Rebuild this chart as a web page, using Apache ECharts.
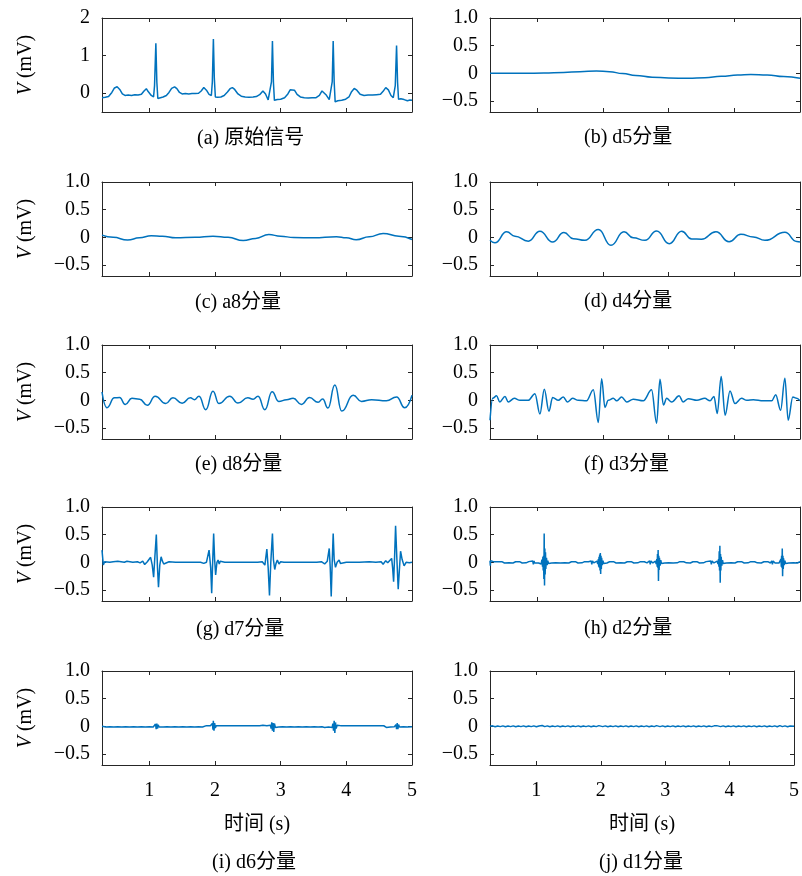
<!DOCTYPE html>
<html><head><meta charset="utf-8">
<script src="https://cdn.jsdelivr.net/npm/echarts@6/dist/echarts.min.js"></script>
<style>html,body{margin:0;padding:0;background:#fff}#c{width:802px;height:876px}</style>
</head><body><div id="c"></div>
<script>
// ---- axis / tick data ----
const X_MIN = 0.28, X_MAX = 5;
const xTicks = [1, 2, 3, 4, 5];
const yTicksRaw = [0, 1, 2];
const yTickLabelsRaw = ['0', '1', '2'];
const yTicksComp = [-0.5, 0, 0.5, 1.0];
const yTickLabelsComp = ['\u22120.5', '0', '0.5', '1.0'];
const captions = ['(a) 原始信号', '(b) d5分量', '(c) a8分量', '(d) d4分量', '(e) d8分量',
  '(f) d3分量', '(g) d7分量', '(h) d2分量', '(i) d6分量', '(j) d1分量'];
const xName = '时间 (s)';

// ---- series data: [time (s), voltage (mV)] ----
const sigRaw = [[0.28,-0.12],[0.33,-0.11],[0.38,-0.09],[0.43,0.02],[0.47,0.14],[0.51,0.17],[0.55,0.1],[0.59,-0.02],[0.63,-0.06],[0.68,-0.05],[0.73,-0.06],[0.78,-0.04],[0.83,-0.05],[0.88,-0.03],[0.92,0.06],[0.955,0.12],[0.98,0.05],[1.03,-0.06],[1.065,-0.1],[1.08,0.2],[1.10,1.33],[1.115,0.3],[1.13,-0.14],[1.16,-0.12],[1.21,-0.1],[1.26,-0.06],[1.30,0.02],[1.34,0.13],[1.385,0.17],[1.42,0.12],[1.46,0.02],[1.50,-0.02],[1.55,-0.01],[1.60,-0.02],[1.65,-0.01],[1.70,-0.01],[1.75,0.0],[1.79,0.06],[1.83,0.15],[1.87,0.08],[1.91,-0.03],[1.945,-0.06],[1.96,0.3],[1.976,1.44],[1.99,0.4],[2.006,-0.1],[2.04,-0.11],[2.09,-0.1],[2.14,-0.06],[2.19,0.03],[2.23,0.12],[2.265,0.15],[2.30,0.1],[2.35,-0.02],[2.40,-0.08],[2.46,-0.1],[2.52,-0.11],[2.58,-0.1],[2.63,-0.09],[2.68,-0.04],[2.73,0.06],[2.77,-0.02],[2.81,-0.18],[2.84,-0.15],[2.86,0.3],[2.875,1.39],[2.89,0.3],[2.905,-0.19],[2.95,-0.17],[3.0,-0.16],[3.06,-0.12],[3.11,-0.02],[3.145,0.09],[3.175,0.125],[3.21,0.08],[3.25,-0.03],[3.30,-0.1],[3.36,-0.12],[3.42,-0.13],[3.48,-0.12],[3.54,-0.12],[3.59,-0.06],[3.63,0.06],[3.65,0.08],[3.69,-0.04],[3.74,-0.17],[3.77,-0.16],[3.785,0.3],[3.80,1.39],[3.815,0.3],[3.83,-0.23],[3.87,-0.2],[3.93,-0.19],[3.99,-0.16],[4.04,-0.1],[4.08,0.04],[4.12,0.125],[4.16,0.08],[4.21,-0.03],[4.27,-0.06],[4.33,-0.05],[4.40,-0.05],[4.46,-0.04],[4.52,-0.03],[4.56,0.05],[4.60,0.15],[4.64,0.09],[4.68,-0.06],[4.715,-0.12],[4.745,0.2],[4.765,1.27],[4.78,0.3],[4.795,-0.16],[4.83,-0.15],[4.88,-0.17],[4.93,-0.2],[4.97,-0.18],[5.0,-0.19]];

const sigD5 = [[0.28,0.0],[0.5,0.0],[0.8,0.0],[1.1,0.005],[1.4,0.015],[1.65,0.03],[1.9,0.04],[2.1,0.03],[2.3,-0.005],[2.5,-0.04],[2.75,-0.07],[3.0,-0.085],[3.3,-0.09],[3.55,-0.08],[3.8,-0.055],[4.05,-0.03],[4.25,-0.02],[4.5,-0.03],[4.75,-0.06],[5.0,-0.09]];

const sigA8 = [[0.28,0.04],[0.45,0.0],[0.67,-0.05],[0.85,-0.01],[1.03,0.03],[1.2,0.02],[1.4,-0.01],[1.7,0.0],[1.97,0.02],[2.2,0.0],[2.43,-0.06],[2.62,-0.02],[2.82,0.05],[3.0,0.02],[3.2,-0.005],[3.5,-0.01],[3.85,0.01],[4.0,-0.01],[4.15,-0.045],[4.35,0.01],[4.56,0.07],[4.8,0.02],[5.0,-0.04]];

const sigD4 = [[0.28,-0.055],[0.355,-0.10],[0.533,0.10],[0.66,0.02],[0.863,-0.07],[1.04,0.11],[1.233,-0.085],[1.406,0.085],[1.548,-0.025],[1.726,-0.055],[1.929,0.14],[2.122,-0.145],[2.32,0.10],[2.46,-0.01],[2.64,-0.055],[2.817,0.115],[3.01,-0.115],[3.198,0.11],[3.35,-0.03],[3.50,-0.035],[3.72,0.10],[3.92,-0.08],[4.10,0.055],[4.29,0.005],[4.467,-0.055],[4.77,0.09],[4.95,-0.075],[5.0,-0.085]];

const sigD8 = [[0.28,0.15],[0.355,-0.135],[0.47,0.045],[0.548,0.05],[0.634,-0.075],[0.736,0.035],[0.853,0.02],[0.97,-0.09],[1.09,0.075],[1.25,-0.06],[1.36,0.045],[1.50,-0.055],[1.625,0.045],[1.69,0.01],[1.757,0.075],[1.86,-0.17],[1.97,0.165],[2.06,-0.06],[2.225,0.075],[2.35,-0.05],[2.50,0.045],[2.58,0.02],[2.656,0.075],[2.76,-0.17],[2.87,0.155],[2.97,-0.02],[3.09,0.01],[3.19,0.035],[3.317,-0.075],[3.44,0.05],[3.57,-0.035],[3.64,0.025],[3.72,-0.14],[3.825,0.275],[3.93,-0.195],[4.105,0.09],[4.23,-0.02],[4.385,0.01],[4.61,-0.01],[4.765,0.06],[4.89,-0.135],[5.0,0.09]];

const sigD3 = [[0.28,-0.36],[0.32,0.035],[0.38,0.08],[0.43,-0.03],[0.508,0.07],[0.558,-0.03],[0.65,0.035],[0.736,0.0],[0.863,0.0],[0.964,0.12],[1.04,-0.25],[1.107,0.2],[1.178,-0.2],[1.233,0.05],[1.32,0.0],[1.396,0.06],[1.457,-0.03],[1.538,0.035],[1.624,0.0],[1.75,-0.01],[1.853,0.19],[1.929,-0.40],[1.98,0.39],[2.03,-0.13],[2.08,0.0],[2.157,0.035],[2.208,-0.01],[2.284,0.06],[2.36,-0.03],[2.46,0.02],[2.614,-0.01],[2.74,0.19],[2.817,-0.415],[2.868,0.38],[2.92,-0.085],[2.97,0.035],[3.046,-0.03],[3.16,0.08],[3.22,-0.03],[3.30,0.03],[3.43,0.0],[3.55,0.035],[3.63,-0.01],[3.69,0.07],[3.74,-0.24],[3.80,0.43],[3.86,-0.27],[3.934,0.17],[4.01,-0.06],[4.11,0.035],[4.19,0.0],[4.29,0.01],[4.44,-0.01],[4.57,-0.01],[4.63,0.1],[4.705,-0.18],[4.77,0.40],[4.82,-0.36],[4.89,0.06],[4.95,0.035],[5.0,-0.01]];

const sigD7 = [[0.28,0.22],[0.30,-0.05],[0.32,0.01],[0.35,-0.01],[0.40,0.0],[0.45,0.01],[0.48,-0.02],[0.52,0.02],[0.55,0.0],[0.62,0.0],[0.66,0.02],[0.69,-0.01],[0.75,0.0],[0.82,0.01],[0.86,-0.01],[0.90,0.02],[0.93,-0.04],[0.97,0.01],[1.02,0.09],[1.045,-0.05],[1.066,-0.27],[1.085,0.1],[1.107,0.50],[1.125,-0.1],[1.14,-0.45],[1.16,-0.05],[1.18,0.10],[1.20,0.02],[1.22,-0.03],[1.25,0.0],[1.30,0.01],[1.40,0.0],[1.5,0.0],[1.6,0.0],[1.7,0.0],[1.78,0.0],[1.83,-0.02],[1.87,0.0],[1.91,0.22],[1.935,-0.1],[1.95,-0.56],[1.965,0.0],[1.98,0.52],[1.995,0.05],[2.01,-0.23],[2.03,0.0],[2.047,0.04],[2.065,-0.03],[2.08,0.02],[2.10,-0.01],[2.15,0.0],[2.3,0.0],[2.5,0.0],[2.65,0.0],[2.72,0.01],[2.76,-0.05],[2.79,0.24],[2.81,-0.1],[2.83,-0.60],[2.85,0.0],[2.875,0.52],[2.89,0.05],[2.91,-0.13],[2.93,-0.02],[2.95,0.04],[2.975,-0.03],[3.0,0.01],[3.05,0.0],[3.2,0.0],[3.4,0.0],[3.55,0.0],[3.62,0.01],[3.67,-0.03],[3.71,0.02],[3.74,0.25],[3.755,-0.1],[3.77,-0.62],[3.785,0.0],[3.80,0.52],[3.815,0.05],[3.835,-0.09],[3.86,0.0],[3.89,0.04],[3.91,-0.02],[3.93,0.01],[4.0,0.0],[4.2,0.0],[4.35,0.01],[4.38,-0.01],[4.45,0.0],[4.53,0.01],[4.56,-0.035],[4.60,0.03],[4.63,-0.01],[4.66,0.02],[4.69,0.07],[4.705,-0.1],[4.72,-0.35],[4.735,0.1],[4.75,0.66],[4.77,0.05],[4.79,-0.485],[4.81,-0.1],[4.826,0.2],[4.85,0.05],[4.88,-0.065],[4.91,0.0],[4.93,0.025],[4.96,-0.01],[5.0,0.0]];

const sigD2 = [[0.28,0.03],[0.285,-0.06],[0.29,0.03],[0.30,0.0],[0.33,0.012],[0.36,-0.012],[0.40,0.01],[0.43,-0.01],[0.46,0.012],[0.50,-0.012],[0.53,0.01],[0.57,-0.01],[0.60,0.012],[0.63,-0.012],[0.67,0.01],[0.70,-0.01],[0.73,0.012],[0.77,-0.012],[0.80,0.01],[0.83,-0.01],[0.87,0.012],[0.90,-0.012],[0.93,0.025],[0.94,-0.035],[0.95,0.025],[0.96,-0.012],[0.99,0.012],[1.02,-0.012],[1.04,0.015],[1.05,0.02],[1.06,-0.03],[1.07,0.05],[1.08,-0.08],[1.085,0.1],[1.09,-0.15],[1.095,0.12],[1.10,-0.3],[1.105,0.52],[1.11,-0.42],[1.115,0.25],[1.12,-0.22],[1.125,0.18],[1.13,-0.12],[1.14,0.08],[1.15,-0.05],[1.16,0.03],[1.17,-0.02],[1.19,0.012],[1.22,-0.012],[1.25,0.01],[1.28,-0.01],[1.31,0.012],[1.35,-0.012],[1.38,0.01],[1.42,-0.01],[1.45,0.012],[1.48,-0.012],[1.52,0.01],[1.55,-0.01],[1.58,0.012],[1.62,-0.012],[1.65,0.01],[1.68,-0.01],[1.72,0.012],[1.75,-0.012],[1.78,0.01],[1.81,-0.01],[1.82,0.025],[1.83,-0.035],[1.84,0.025],[1.86,-0.012],[1.89,0.012],[1.91,0.02],[1.92,-0.03],[1.93,0.06],[1.935,-0.08],[1.94,0.1],[1.945,-0.1],[1.95,0.14],[1.955,-0.15],[1.96,0.17],[1.965,-0.21],[1.97,0.12],[1.975,-0.12],[1.98,0.08],[1.99,-0.05],[2.0,0.03],[2.01,-0.02],[2.03,0.012],[2.06,-0.012],[2.10,0.01],[2.13,-0.01],[2.16,0.012],[2.20,-0.012],[2.23,0.01],[2.27,-0.01],[2.30,0.012],[2.33,-0.012],[2.37,0.01],[2.40,-0.01],[2.43,0.012],[2.47,-0.012],[2.50,0.01],[2.53,-0.01],[2.57,0.012],[2.60,-0.012],[2.63,0.01],[2.67,-0.01],[2.70,0.012],[2.71,0.025],[2.72,-0.035],[2.73,0.025],[2.76,-0.012],[2.79,0.012],[2.80,0.02],[2.81,-0.03],[2.82,0.06],[2.825,-0.08],[2.83,0.15],[2.835,-0.1],[2.84,0.22],[2.845,-0.34],[2.85,0.12],[2.855,-0.14],[2.86,0.08],[2.87,-0.06],[2.88,0.04],[2.89,-0.02],[2.91,0.012],[2.94,-0.012],[2.97,0.01],[3.0,-0.01],[3.03,0.012],[3.07,-0.012],[3.10,0.01],[3.13,-0.01],[3.17,0.012],[3.20,-0.012],[3.23,0.01],[3.27,-0.01],[3.30,0.012],[3.33,-0.012],[3.37,0.01],[3.40,-0.01],[3.43,0.012],[3.47,-0.012],[3.50,0.01],[3.53,-0.01],[3.57,0.012],[3.60,-0.012],[3.64,0.025],[3.65,-0.035],[3.66,0.025],[3.69,-0.012],[3.72,0.012],[3.74,0.02],[3.75,-0.03],[3.76,0.06],[3.765,-0.08],[3.77,0.2],[3.775,-0.15],[3.78,0.3],[3.785,-0.37],[3.79,0.15],[3.795,-0.15],[3.80,0.1],[3.81,-0.06],[3.82,0.04],[3.83,-0.02],[3.85,0.012],[3.88,-0.012],[3.91,0.01],[3.95,-0.01],[3.98,0.012],[4.01,-0.012],[4.05,0.01],[4.08,-0.01],[4.11,0.012],[4.15,-0.012],[4.18,0.01],[4.21,-0.01],[4.25,0.012],[4.28,-0.012],[4.31,0.01],[4.35,-0.01],[4.38,0.012],[4.41,-0.012],[4.45,0.01],[4.48,-0.01],[4.51,0.012],[4.55,-0.012],[4.57,0.025],[4.58,-0.035],[4.59,0.025],[4.62,-0.012],[4.65,0.012],[4.68,-0.015],[4.69,0.02],[4.70,-0.03],[4.71,0.06],[4.715,-0.08],[4.72,0.12],[4.725,-0.1],[4.73,0.25],[4.735,-0.25],[4.74,0.12],[4.745,-0.12],[4.75,0.07],[4.76,-0.05],[4.77,0.03],[4.78,-0.02],[4.80,0.012],[4.83,-0.012],[4.86,0.01],[4.90,-0.01],[4.93,0.012],[4.96,-0.012],[5.0,0.01]];

const sigD6 = [[0.28,0.0],[0.31,0.012],[0.34,-0.012],[0.37,0.01],[0.40,-0.01],[0.43,0.012],[0.46,-0.012],[0.49,0.01],[0.52,-0.01],[0.55,0.012],[0.58,-0.012],[0.61,0.01],[0.64,-0.01],[0.67,0.012],[0.70,-0.012],[0.73,0.01],[0.76,-0.01],[0.79,0.012],[0.82,-0.012],[0.85,0.01],[0.88,-0.01],[0.91,0.012],[0.94,-0.012],[0.97,0.01],[1.00,-0.01],[1.03,0.012],[1.06,-0.012],[1.075,0.02],[1.085,-0.03],[1.095,0.04],[1.105,-0.05],[1.115,0.05],[1.125,-0.04],[1.135,0.025],[1.15,-0.012],[1.18,0.012],[1.21,-0.012],[1.24,0.01],[1.27,-0.01],[1.30,0.012],[1.33,-0.012],[1.36,0.01],[1.39,-0.01],[1.42,0.012],[1.45,-0.012],[1.48,0.01],[1.51,-0.01],[1.54,0.012],[1.57,-0.012],[1.60,0.01],[1.63,-0.01],[1.66,0.012],[1.69,-0.012],[1.72,0.01],[1.75,-0.01],[1.78,0.012],[1.81,-0.012],[1.82,0.02],[1.84,-0.02],[1.87,0.012],[1.90,-0.012],[1.93,0.01],[1.95,-0.02],[1.96,0.05],[1.97,-0.06],[1.975,0.1],[1.985,-0.08],[1.995,0.06],[2.005,-0.03],[2.02,0.012],[2.05,-0.012],[2.08,0.01],[2.11,-0.01],[2.14,0.012],[2.17,-0.012],[2.20,0.01],[2.23,-0.01],[2.26,0.012],[2.29,-0.012],[2.32,0.01],[2.35,-0.01],[2.38,0.012],[2.41,-0.012],[2.44,0.01],[2.47,-0.01],[2.50,0.012],[2.53,-0.012],[2.56,0.01],[2.59,-0.01],[2.62,0.012],[2.65,-0.012],[2.68,0.01],[2.71,-0.02],[2.73,0.02],[2.76,-0.012],[2.79,0.012],[2.82,-0.01],[2.845,0.02],[2.855,-0.04],[2.865,0.07],[2.875,-0.08],[2.885,0.06],[2.895,-0.1],[2.905,0.05],[2.92,-0.02],[2.94,0.012],[2.97,-0.012],[3.00,0.01],[3.03,-0.01],[3.06,0.012],[3.09,-0.012],[3.12,0.01],[3.15,-0.01],[3.18,0.012],[3.21,-0.012],[3.24,0.01],[3.27,-0.01],[3.30,0.012],[3.33,-0.012],[3.36,0.01],[3.39,-0.01],[3.42,0.012],[3.45,-0.012],[3.48,0.01],[3.51,-0.01],[3.54,0.012],[3.57,-0.012],[3.60,0.01],[3.63,-0.01],[3.65,0.02],[3.67,-0.02],[3.70,0.012],[3.73,-0.012],[3.76,0.01],[3.785,-0.02],[3.795,0.05],[3.805,-0.08],[3.815,0.1],[3.825,-0.12],[3.835,0.07],[3.845,-0.04],[3.86,0.02],[3.88,-0.012],[3.91,0.012],[3.94,-0.01],[3.97,0.01],[4.00,-0.012],[4.03,0.012],[4.06,-0.01],[4.09,0.01],[4.12,-0.012],[4.15,0.012],[4.18,-0.01],[4.21,0.01],[4.24,-0.012],[4.27,0.012],[4.30,-0.01],[4.33,0.01],[4.36,-0.012],[4.39,0.012],[4.42,-0.01],[4.45,0.01],[4.48,-0.012],[4.51,0.012],[4.54,-0.01],[4.57,0.01],[4.59,0.02],[4.61,-0.02],[4.64,0.012],[4.67,-0.012],[4.70,0.01],[4.73,-0.01],[4.755,0.03],[4.765,-0.05],[4.775,0.06],[4.785,-0.05],[4.795,0.03],[4.81,-0.012],[4.84,0.012],[4.87,-0.01],[4.90,0.01],[4.93,-0.012],[4.96,0.012],[5.0,-0.01]];

const sigD1 = [[0.28,0.0],[0.32,0.008],[0.36,-0.008],[0.40,0.006],[0.44,-0.006],[0.48,0.008],[0.52,-0.008],[0.56,0.006],[0.60,-0.006],[0.64,0.008],[0.68,-0.008],[0.72,0.006],[0.76,-0.006],[0.80,0.008],[0.84,-0.008],[0.88,0.006],[0.92,-0.006],[0.96,0.008],[1.00,-0.008],[1.04,0.006],[1.07,-0.008],[1.09,0.015],[1.10,-0.015],[1.11,0.012],[1.13,-0.006],[1.17,0.008],[1.21,-0.008],[1.25,0.006],[1.29,-0.006],[1.33,0.008],[1.37,-0.008],[1.41,0.006],[1.45,-0.006],[1.49,0.008],[1.53,-0.008],[1.57,0.006],[1.61,-0.006],[1.65,0.008],[1.69,-0.008],[1.73,0.006],[1.77,-0.006],[1.81,0.008],[1.85,-0.008],[1.89,0.006],[1.93,-0.006],[1.97,0.012],[1.98,-0.012],[1.99,0.01],[2.03,-0.006],[2.07,0.008],[2.11,-0.008],[2.15,0.006],[2.19,-0.006],[2.23,0.008],[2.27,-0.008],[2.31,0.006],[2.35,-0.006],[2.39,0.008],[2.43,-0.008],[2.47,0.006],[2.51,-0.006],[2.55,0.008],[2.59,-0.008],[2.63,0.006],[2.67,-0.006],[2.71,0.008],[2.75,-0.008],[2.79,0.006],[2.83,-0.006],[2.865,0.012],[2.875,-0.012],[2.885,0.01],[2.92,-0.006],[2.96,0.008],[3.00,-0.008],[3.04,0.006],[3.08,-0.006],[3.12,0.008],[3.16,-0.008],[3.20,0.006],[3.24,-0.006],[3.28,0.008],[3.32,-0.008],[3.36,0.006],[3.40,-0.006],[3.44,0.008],[3.48,-0.008],[3.52,0.006],[3.56,-0.006],[3.60,0.008],[3.64,-0.008],[3.68,0.006],[3.72,-0.006],[3.76,0.008],[3.80,0.012],[3.81,-0.015],[3.82,0.012],[3.86,-0.006],[3.90,0.008],[3.94,-0.008],[3.98,0.006],[4.02,-0.006],[4.06,0.008],[4.10,-0.008],[4.14,0.006],[4.18,-0.006],[4.22,0.008],[4.26,-0.008],[4.30,0.006],[4.34,-0.006],[4.38,0.008],[4.42,-0.008],[4.46,0.006],[4.50,-0.006],[4.54,0.008],[4.58,-0.008],[4.62,0.006],[4.66,-0.006],[4.70,0.008],[4.74,-0.008],[4.76,0.015],[4.77,-0.015],[4.78,0.012],[4.82,-0.006],[4.86,0.008],[4.90,-0.008],[4.94,0.006],[4.97,-0.006],[5.0,0.0]];

const panelSeries = [sigRaw, sigD5, sigA8, sigD4, sigD8, sigD3, sigD7, sigD2, sigD6, sigD1];
const panelSmooth = [false, 0.5, 0.5, 0.5, 0.5, 0.35, false, false, false, false];

// ---- layout / style ----
const FONT = "'Liberation Serif', 'Noto Sans CJK SC', serif";
const AX = '#262626';
const LINE = '#0072BD';
const colLeft = [102, 490];
const rowTop = [18, 182, 345, 507, 671];
const plotW = 310, plotH = 94;
const capPos = [[197,139],[584,138],[195,303],[584,302],[195,465],[584,465],[196,630],[584,629],[212,863],[599,863]];

const grids = [], xAxes = [], yAxes = [], series = [], graphics = [];
panelSeries.forEach((data, i) => {
  const row = Math.floor(i / 2), col = i % 2;
  const isRaw = i === 0;
  const bottomRow = row === 4;
  grids.push({ left: colLeft[col], top: rowTop[row], width: plotW, height: plotH });
  const tickStyle = { show: true, inside: true, length: 4, lineStyle: { color: AX, width: 1 }, customValues: xTicks };
  xAxes.push({
    gridIndex: i, type: 'value', min: X_MIN, max: X_MAX, position: 'bottom',
    axisLine: { show: true, onZero: false, lineStyle: { color: AX, width: 1 } },
    axisTick: tickStyle,
    splitLine: { show: false },
    axisLabel: { show: bottomRow, customValues: xTicks, margin: 16, fontSize: 20, fontFamily: FONT, color: '#000',
      alignMaxLabel: 'center', hideOverlap: false },
    name: bottomRow ? xName : '', nameLocation: 'middle', nameGap: 50,
    nameTextStyle: { fontSize: 20, fontFamily: FONT, color: '#000' }
  });
  xAxes.push({
    gridIndex: i, type: 'value', min: X_MIN, max: X_MAX, position: 'top',
    axisLine: { show: true, onZero: false, lineStyle: { color: AX, width: 1 } },
    axisTick: tickStyle, splitLine: { show: false }, axisLabel: { show: false }
  });
  const yt = isRaw ? yTicksRaw : yTicksComp;
  const yl = isRaw ? yTickLabelsRaw : yTickLabelsComp;
  const yTick = { show: true, inside: true, length: 4, lineStyle: { color: AX, width: 1 }, customValues: yt };
  yAxes.push({
    gridIndex: i, type: 'value', min: isRaw ? -0.5 : -0.7, max: isRaw ? 2 : 1, position: 'left',
    axisLine: { show: true, onZero: false, lineStyle: { color: AX, width: 1 } },
    axisTick: yTick, splitLine: { show: false },
    axisLabel: { customValues: yt, margin: 12, fontSize: 20, fontFamily: FONT, color: '#000',
      formatter: v => { const k = yt.findIndex(t => Math.abs(t - v) < 1e-9); return k >= 0 ? yl[k] : ''; } },
    name: col === 0 ? '{i|V} (mV)' : '', nameLocation: 'middle', nameGap: 66, nameRotate: 90,
    nameTextStyle: { fontSize: 20, fontFamily: FONT, color: '#000',
      rich: { i: { fontStyle: 'italic', fontSize: 20, fontFamily: FONT, color: '#000' } } }
  });
  yAxes.push({
    gridIndex: i, type: 'value', min: isRaw ? -0.5 : -0.7, max: isRaw ? 2 : 1, position: 'right',
    axisLine: { show: true, onZero: false, lineStyle: { color: AX, width: 1 } },
    axisTick: yTick, splitLine: { show: false }, axisLabel: { show: false }
  });
  series.push({
    type: 'line', xAxisIndex: 2 * i, yAxisIndex: 2 * i, data: data,
    showSymbol: false, smooth: panelSmooth[i], smoothMonotone: panelSmooth[i] ? 'x' : undefined,
    lineStyle: { color: LINE, width: 1.5 }, itemStyle: { color: LINE }, animation: false, clip: true
  });
  graphics.push({
    type: 'text', x: capPos[i][0], y: capPos[i][1],
    style: { text: captions[i], fontSize: 20, fontFamily: FONT, fill: '#000', align: 'left', verticalAlign: 'middle' }
  });
});

const chart = echarts.init(document.getElementById('c'), null, { renderer: 'canvas' });
chart.setOption({
  animation: false,
  grid: grids, xAxis: xAxes, yAxis: yAxes, series: series, graphic: graphics
});
</script>
</body></html>
